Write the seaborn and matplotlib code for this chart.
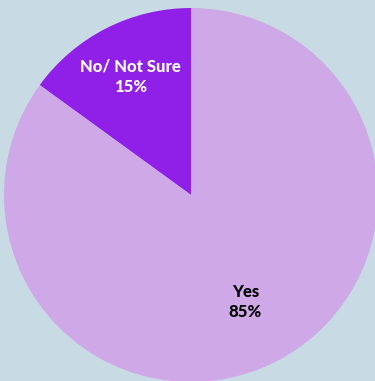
import numpy as np
import matplotlib
matplotlib.use("Agg")
import matplotlib.pyplot as plt
import seaborn as sns

categories = ["No/ Not Sure", "Yes"]
values = [15, 85]
pct_labels = ["15%", "85%"]

colors = ["#9020e8", "#cfa8e8"]
text_colors = ["white", "black"]
label_radii = [0.71, 0.64]

sns.set_theme(style="white")
plt.rcParams["font.family"] = ["Lato", "DejaVu Sans"]

W, H = 375, 381
fig = plt.figure(figsize=(W / 100, H / 100), dpi=100)
bg = "#c8dae4"
fig.patch.set_facecolor(bg)
ax = fig.add_axes([0, 0, 1, 1])
ax.set_facecolor(bg)

cx, cy, r = 191, 195, 187
wedges, _ = ax.pie(values, colors=colors, startangle=90, counterclock=True,
                   radius=1, center=(0, 0), wedgeprops=dict(linewidth=0))
for w, cat, pct, tc, rr in zip(wedges, categories, pct_labels, text_colors, label_radii):
    ang = np.deg2rad((w.theta1 + w.theta2) / 2)
    ax.text(rr * np.cos(ang), rr * np.sin(ang), f"{cat}\n{pct}", ha="center", va="center",
            color=tc, fontsize=12, fontweight=900, linespacing=1.3)

ax.set_aspect("auto")
ax.set_xlim(-cx / r, (W - cx) / r)
ax.set_ylim(-(H - cy) / r, cy / r)
ax.axis("off")
fig.savefig("out.png", dpi=100, facecolor=bg)
